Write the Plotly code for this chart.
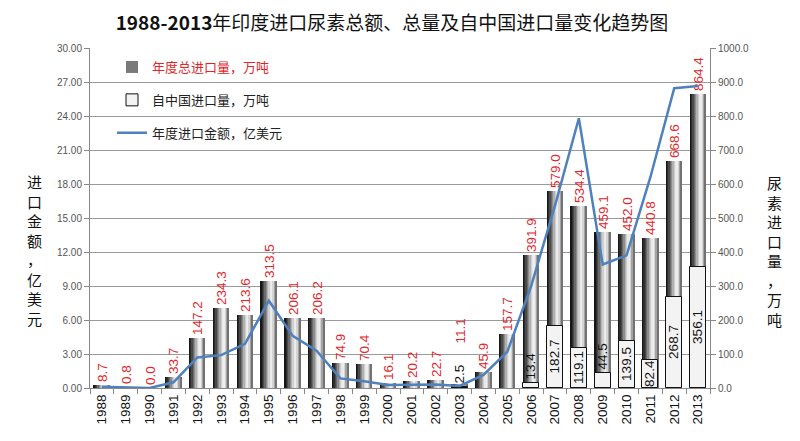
import plotly.graph_objects as go

years = [str(y) for y in range(1988, 2014)]
total_import = [8.7, 0.8, 0.0, 33.7, 147.2, 234.3, 213.6, 313.5, 206.1, 206.2, 74.9, 70.4,
                16.1, 20.2, 22.7, 11.1, 45.9, 157.7, 391.9, 579.0, 534.4, 459.1, 452.0, 440.8,
                668.6, 864.4]
china_import = [None, None, None, None, None, None, None, None, None, None, None, None,
                None, None, None, 2.5, None, None, 13.4, 182.7, 119.1, 44.5, 139.5, 82.4,
                268.7, 356.1]
import_value = [0.12, 0.05, 0.0, 0.5, 2.7, 2.9, 3.9, 7.7, 4.6, 3.3, 0.85, 0.6,
                0.26, 0.28, 0.3, 0.18, 1.15, 3.2, 9.0, 16.1, 23.8, 10.9, 11.7, 18.6,
                26.45, 26.65]

FONT = "Liberation Sans, Noto Sans CJK SC, sans-serif"
CJK = "Noto Sans CJK SC, Liberation Sans, sans-serif"
BW = 0.67
RED = "#e0262b"

# page body has an 8px margin, so the figure is laid out 8px smaller and shifted
OFF = 8
W, H = 800 - OFF, 441 - OFF
ML, MR, MT, MB = 90 - OFF, 90, 48 - OFF, 53
pw, ph = W - ML - MR, H - MT - MB

china_pos = [None if v is None else ("outside" if v < 60 else "inside") for v in china_import]

# total labels; when a China label sits right on top of a tiny total bar, lift the total label
total_text = []
for t, c, p in zip(total_import, china_import, china_pos):
    s = f"{t:.1f}"
    if p == "outside" and t - c < 30:
        s = "\u00a0" * 10 + s
    total_text.append(s)

fig = go.Figure()

# base trace carrying labels and legend entry for totals
fig.add_trace(go.Bar(
    x=years, y=total_import, yaxis="y", width=BW,
    name=f'<span style="color:{RED}">年度总进口量，万吨</span>',
    marker=dict(color="#7a7a7a", line=dict(width=0)),
    text=total_text, textposition="outside", textangle=-90,
    outsidetextfont=dict(color=RED, size=13.5, family=FONT),
    constraintext="none", cliponaxis=False, legendrank=1, legendgroup="a",
))

# cylinder-like gradient stripes
stripe_cols = ["#161616", "#2e2e2e", "#4a4a4a", "#6a6a6a", "#8c8c8c", "#b0b0b0",
               "#d0d0d0", "#e8e8e8", "#eeeeee", "#d4d4d4", "#a4a4a4", "#727272"]
n = len(stripe_cols)
sw = BW / n
for i, c in enumerate(stripe_cols):
    fig.add_trace(go.Bar(
        x=years, y=total_import, yaxis="y", width=sw * 1.05, offset=-BW / 2 + i * sw,
        marker=dict(color=c, line=dict(width=0)), showlegend=False, hoverinfo="skip",
    ))

fig.add_trace(go.Bar(
    x=years, y=china_import, yaxis="y", width=BW,
    name="自中国进口量，万吨",
    marker=dict(color="#f3f3f3", line=dict(color="#111111", width=1)),
    text=[None if v is None else f"{v:.1f}" for v in china_import],
    textposition=[p or "none" for p in china_pos], textangle=-90,
    insidetextfont=dict(color="#111111", size=13.5, family=FONT),
    outsidetextfont=dict(color="#111111", size=13.5, family=FONT),
    insidetextanchor="middle", constraintext="none", cliponaxis=False,
    legendrank=2, legendgroup="b",
))

fig.add_trace(go.Scatter(
    x=years, y=import_value, yaxis="y2", mode="lines",
    name="年度进口金额，亿美元",
    line=dict(color="#4f81bd", width=2.5), legendrank=3, legendgroup="c",
))

fig.update_layout(
    width=W, height=H,
    paper_bgcolor="white", plot_bgcolor="white",
    margin=dict(l=ML, r=MR, t=MT, b=MB),
    barmode="overlay", bargap=0,
    font=dict(family=CJK, size=13, color="#222"),
    title=dict(text="<b>1988-2013</b>年印度进口尿素总额、总量及自中国进口量变化趋势图",
               x=(392 - OFF) / W, xanchor="center", y=1 - (23 - OFF) / H, yanchor="middle",
               font=dict(size=19, family=CJK, color="#111")),
    xaxis=dict(type="category", tickangle=-90, tickfont=dict(size=13.5, family=FONT, color="#111"),
               showline=True, linecolor="#888", ticks="outside", tickson="boundaries",
               ticklen=5, tickcolor="#888", showgrid=False),
    yaxis=dict(side="right", range=[0, 1000], dtick=100, tickformat=".1f",
               tickfont=dict(size=10, family=FONT, color="#555"),
               showline=True, linecolor="#888", ticks="outside", ticklen=5, tickcolor="#888",
               showgrid=True, gridcolor="#9a9a9a", gridwidth=1, zeroline=False),
    yaxis2=dict(side="left", overlaying="y", range=[0, 30], dtick=3, tickformat=".2f",
                tickfont=dict(size=10, family=FONT, color="#555"),
                showline=True, linecolor="#888", ticks="outside", ticklen=5, tickcolor="#888",
                showgrid=False, zeroline=False),
    legend=dict(x=(112 - 90) / pw, y=1 - (52 - 48) / ph, xanchor="left", yanchor="top",
                bgcolor="rgba(0,0,0,0)",
                traceorder="grouped", tracegroupgap=13, font=dict(size=13, family=CJK)),
    showlegend=True,
)

fig.add_annotation(text="<br>".join(list("进口金额，亿美元")),
                   x=(34 - 90) / pw, y=(388 - 250) / ph, xref="paper", yref="paper",
                   xanchor="center", yanchor="middle", showarrow=False,
                   font=dict(size=15, family=CJK, color="#111"))
fig.add_annotation(text="<br>".join(list("尿素进口量，万吨")),
                   x=(774 - 90) / pw, y=(388 - 251) / ph, xref="paper", yref="paper",
                   xanchor="center", yanchor="middle", showarrow=False,
                   font=dict(size=15, family=CJK, color="#111"))

fig.write_html("out.html")
